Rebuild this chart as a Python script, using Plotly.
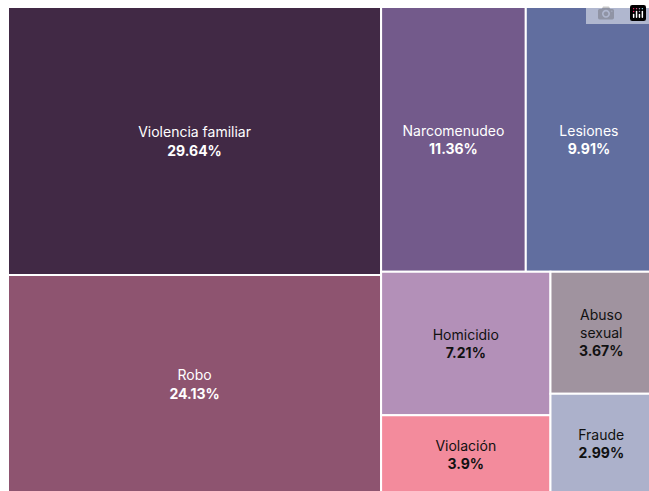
import plotly.graph_objects as go

categories = ["Violencia familiar", "Robo", "Narcomenudeo", "Lesiones", "Homicidio",
              "Violación", "Abuso sexual", "Fraude"]
display_labels = ["Violencia familiar", "Robo", "Narcomenudeo", "Lesiones", "Homicidio",
                  "Violación", "Abuso<br>sexual", "Fraude"]
percentages = [29.64, 24.13, 11.36, 9.91, 7.21, 3.9, 3.67, 2.99]
colors = ["#412945", "#8e5470", "#735a8b", "#616e9f", "#b390b8",
          "#f38b9c", "#a0939f", "#acb1cb"]
text_colors = ["#ffffff", "#ffffff", "#ffffff", "#ffffff", "#111111",
               "#111111", "#111111", "#111111"]

fig = go.Figure(go.Treemap(
    labels=categories,
    parents=[""] * len(categories),
    values=percentages,
    customdata=display_labels,
    text=[f"{p:g}%" for p in percentages],
    texttemplate="%{customdata}<br><b>%{text}</b>",
    textposition="middle center",
    textfont=dict(family="Inter, Lato, sans-serif", size=14, color=text_colors),
    marker=dict(colors=colors, line=dict(color="#ffffff", width=2),
                pad=dict(t=0, l=0, r=0, b=0)),
    tiling=dict(packing="squarify", pad=0, squarifyratio=1.618034),
    pathbar=dict(visible=False),
    sort=True,
    hoverinfo="label+value",
))

fig.update_layout(
    width=652,
    height=493,
    margin=dict(l=8, r=0, t=7, b=0),
    paper_bgcolor="#ffffff",
    plot_bgcolor="#ffffff",
)

fig.write_html(
    "out.html",
    config={"responsive": False},
    post_script="document.body.style.margin='0px';document.body.style.overflow='hidden';",
)
